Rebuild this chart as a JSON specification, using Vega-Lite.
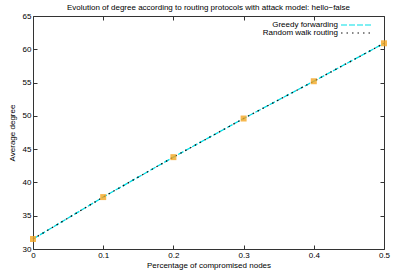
{
  "$schema": "https://vega.github.io/schema/vega-lite/v6.json",
  "width": 351,
  "height": 233,
  "autosize": {"type": "none"},
  "padding": {"left": 33, "top": 16, "right": 14, "bottom": 26},
  "background": "white",
  "title": {"text": "Evolution of degree according to routing protocols with attack model: hello−false", "fontSize": 8, "fontWeight": "normal", "font": "Liberation Sans", "color": "#000", "offset": 0, "anchor": "middle"},
  "config": {
    "font": "Liberation Sans",
    "view": {"stroke": "#333", "strokeWidth": 1},
    "axis": {"grid": false, "domain": false, "tickSize": -4, "tickColor": "#333", "labelFontSize": 8, "labelColor": "#000", "titleFontSize": 8, "titleFontWeight": "normal", "titleColor": "#000", "labelFlush": false}
  },
  "data": {"values": [
    {"p": 0.0, "deg": 31.5, "series": "Greedy forwarding"},
    {"p": 0.1, "deg": 37.8, "series": "Greedy forwarding"},
    {"p": 0.2, "deg": 43.8, "series": "Greedy forwarding"},
    {"p": 0.3, "deg": 49.6, "series": "Greedy forwarding"},
    {"p": 0.4, "deg": 55.2, "series": "Greedy forwarding"},
    {"p": 0.5, "deg": 60.9, "series": "Greedy forwarding"},
    {"p": 0.0, "deg": 31.5, "series": "Random walk routing"},
    {"p": 0.1, "deg": 37.8, "series": "Random walk routing"},
    {"p": 0.2, "deg": 43.8, "series": "Random walk routing"},
    {"p": 0.3, "deg": 49.6, "series": "Random walk routing"},
    {"p": 0.4, "deg": 55.2, "series": "Random walk routing"},
    {"p": 0.5, "deg": 60.9, "series": "Random walk routing"}
  ]},
  "resolve": {"axis": {"x": "independent", "y": "independent"}},
  "layer": [
    {
      "mark": {"type": "line", "strokeWidth": 1.3},
      "encoding": {
        "x": {"field": "p", "type": "quantitative", "scale": {"domain": [0, 0.5], "nice": false, "zero": false}, "axis": {"title": "Percentage of compromised nodes", "values": [0, 0.1, 0.2, 0.3, 0.4, 0.5], "labelExpr": "datum.value === 0 ? '0' : datum.label", "labelPadding": 6, "titlePadding": 2}},
        "y": {"field": "deg", "type": "quantitative", "scale": {"domain": [30, 65], "nice": false, "zero": false}, "axis": {"title": "Average degree", "values": [30, 35, 40, 45, 50, 55, 60, 65], "labelPadding": 6, "titlePadding": 6}},
        "color": {"field": "series", "type": "nominal", "scale": {"domain": ["Greedy forwarding", "Random walk routing"], "range": ["#00e0e8", "#111111"]}, "legend": {"title": null, "orient": "none", "legendX": 319, "legendY": 5, "symbolType": "M-5,0H5", "labelFontSize": 8, "labelColor": "#000", "rowPadding": 0, "symbolSize": 36, "symbolStrokeWidth": 1.2, "labelAlign": "right", "labelOffset": -22, "padding": 0}},
        "strokeDash": {"field": "series", "type": "nominal", "scale": {"domain": ["Greedy forwarding", "Random walk routing"], "range": [[6, 2], [1.5, 4]]}, "legend": null},
        "order": {"field": "series"}
      }
    },
    {
      "transform": [{"filter": "datum.series === 'Greedy forwarding'"}],
      "mark": {"type": "point", "shape": "square", "filled": true, "color": "#f5a623", "size": 36, "opacity": 0.8},
      "encoding": {
        "x": {"field": "p", "type": "quantitative", "axis": {"orient": "top", "labels": false, "title": null, "values": [0, 0.1, 0.2, 0.3, 0.4, 0.5]}},
        "y": {"field": "deg", "type": "quantitative", "axis": {"orient": "right", "labels": false, "title": null, "values": [30, 35, 40, 45, 50, 55, 60, 65]}}
      }
    }
  ]
}
